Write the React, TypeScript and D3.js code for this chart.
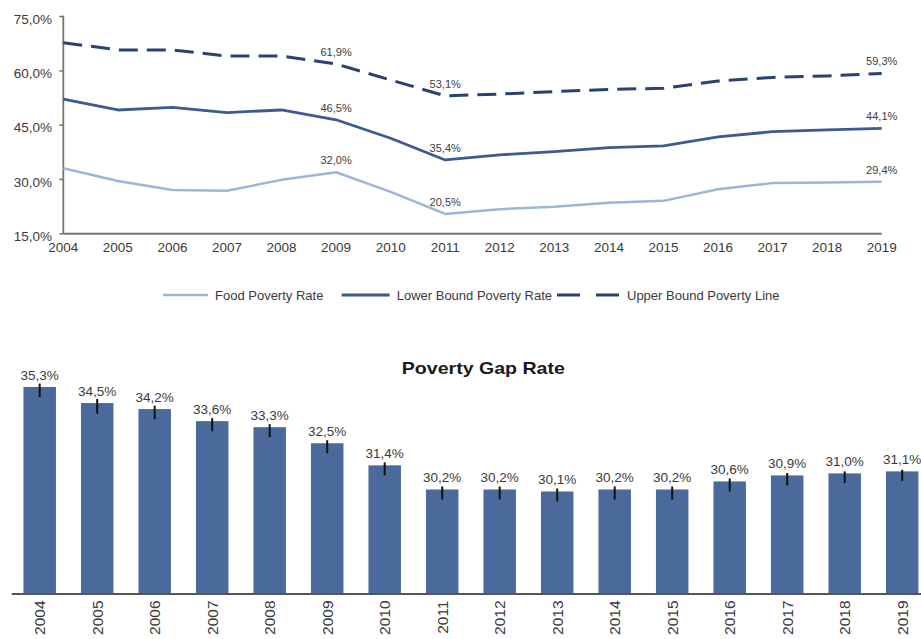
import React from "react";
import * as d3 from "d3";

const years = [2004, 2005, 2006, 2007, 2008, 2009, 2010, 2011, 2012, 2013, 2014, 2015, 2016, 2017, 2018, 2019];
const foodPovertyRate = [33.1, 29.6, 27.1, 26.9, 29.9, 32.0, 26.6, 20.5, 21.8, 22.5, 23.6, 24.1, 27.3, 29.0, 29.2, 29.4];
const lowerBoundPovertyRate = [52.2, 49.2, 49.9, 48.5, 49.2, 46.5, 41.4, 35.4, 36.8, 37.7, 38.8, 39.3, 41.8, 43.2, 43.7, 44.1];
const upperBoundPovertyLine = [67.8, 65.8, 65.8, 64.1, 64.1, 61.9, 57.5, 53.1, 53.6, 54.3, 54.9, 55.2, 57.2, 58.2, 58.6, 59.3];
const labeledYears = [2009, 2011, 2019];
const yTicks = [15, 30, 45, 60, 75];

const povertyGapRate = [35.3, 34.5, 34.2, 33.6, 33.3, 32.5, 31.4, 30.2, 30.2, 30.1, 30.2, 30.2, 30.6, 30.9, 31.0, 31.1];
const gapErrorUp = [0.17, 0.2, 0.17, 0.15, 0.15, 0.15, 0.15, 0.15, 0.15, 0.15, 0.15, 0.15, 0.15, 0.12, 0.1, 0.08];
const gapErrorDown = [0.5, 0.53, 0.5, 0.5, 0.5, 0.5, 0.5, 0.5, 0.5, 0.5, 0.5, 0.5, 0.5, 0.5, 0.48, 0.47];

const legendItems = [
  { name: "Food Poverty Rate", color: "#9db6d8", dash: "", width: 2.5 },
  { name: "Lower Bound Poverty Rate", color: "#3d5b8e", dash: "", width: 2.8 },
  { name: "Upper Bound Poverty Line", color: "#2a4270", dash: "23,16", width: 3 },
];

const FONT = "'Liberation Sans', Arial, sans-serif";
const fmt = (v: number) => d3.format(".1f")(v).replace(".", ",") + "%";

export default function App() {
  const W = 921, H = 639;
  // top line chart
  const x = d3.scaleLinear().domain([2004, 2019]).range([63.3, 881.7]);
  const y = d3.scaleLinear().domain([15, 75]).range([233.8, 16.6]);
  const line = d3
    .line<number>()
    .x((_, i) => x(years[i]))
    .y((d) => y(d));

  const series = [
    { data: foodPovertyRate, ...legendItems[0] },
    { data: lowerBoundPovertyRate, ...legendItems[1] },
    { data: upperBoundPovertyLine, ...legendItems[2], dash: "19,9" },
  ];

  // bottom bar chart
  const xb = d3
    .scaleBand<number>()
    .domain(years)
    .range([10.95, 930.95])
    .paddingInner(0.435)
    .paddingOuter(0.2175);
  const yb = d3.scaleLinear().domain([25, 35]).range([594, 393]);

  const axisColor = "#7a736c";
  const textColor = "#3a3a3a";

  const legendX = [163, 341.7, 557];
  const legendLen = [45, 48, 63];

  return (
    <svg
      width={W}
      height={H}
      style={{ position: "absolute", left: 0, top: 0, background: "#fff" }}
      fontFamily={FONT}
    >
      {/* Top chart axes */}
      <line x1={x(2004)} x2={x(2004)} y1={y(75) - 1} y2={y(15)} stroke={axisColor} strokeWidth={1.8} />
      <line x1={x(2004)} x2={x(2019)} y1={y(15)} y2={y(15)} stroke={axisColor} strokeWidth={2} />
      {yTicks.map((t) => (
        <g key={t}>
          <line x1={x(2004) - 4} x2={x(2004)} y1={y(t)} y2={y(t)} stroke={axisColor} strokeWidth={1.5} />
          <text
            x={52}
            y={y(t) + 7}
            textAnchor="end"
            fontSize={13.5}
            fill={textColor}
          >
            {fmt(t)}
          </text>
        </g>
      ))}
      {years.map((yr) => (
        <text key={yr} x={x(yr)} y={252} textAnchor="middle" fontSize={13.5} fill={textColor}>
          {yr}
        </text>
      ))}
      {series.map((s) => (
        <path
          key={s.name}
          d={line(s.data) || ""}
          fill="none"
          stroke={s.color}
          strokeWidth={s.width}
          strokeDasharray={s.dash || undefined}
          strokeLinejoin="round"
        />
      ))}
      {series.map((s) =>
        labeledYears.map((yr) => {
          const i = years.indexOf(yr);
          return (
            <text
              key={s.name + yr}
              x={x(yr)}
              y={y(s.data[i]) - 8}
              textAnchor="middle"
              fontSize={11}
              fill="#404040"
            >
              {fmt(s.data[i])}
            </text>
          );
        })
      )}

      {/* Legend */}
      {legendItems.map((item, i) => (
        <g key={item.name}>
          <line
            x1={legendX[i]}
            x2={legendX[i] + legendLen[i]}
            y1={295}
            y2={295}
            stroke={item.color}
            strokeWidth={item.width}
            strokeDasharray={item.dash || undefined}
          />
          <text x={legendX[i] + legendLen[i] + 7} y={299.5} fontSize={13} fill={textColor}>
            {item.name}
          </text>
        </g>
      ))}

      {/* Bottom chart */}
      <text
        x={483.3}
        y={374}
        textAnchor="middle"
        fontSize={17}
        fontWeight="bold"
        fill="#1a1a1a"
        textLength={163}
        lengthAdjust="spacingAndGlyphs"
      >
        Poverty Gap Rate
      </text>
      {years.map((yr, i) => {
        const bx = xb(yr) as number;
        const cx = bx + xb.bandwidth() / 2;
        const v = povertyGapRate[i];
        return (
          <g key={yr}>
            <rect x={bx} y={yb(v)} width={xb.bandwidth()} height={yb(25) - yb(v)} fill="#4a6a9b" />
            <line
              x1={cx}
              x2={cx}
              y1={yb(v + gapErrorUp[i])}
              y2={yb(v - gapErrorDown[i])}
              stroke="#111"
              strokeWidth={2}
            />
            <text x={cx} y={yb(v) - 7} textAnchor="middle" fontSize={13.5} fill={textColor}>
              {fmt(v)}
            </text>
            <text
              transform={`translate(${cx + 5.5},600.5) rotate(-90)`}
              textAnchor="end"
              fontSize={15.5}
              fill={textColor}
            >
              {yr}
            </text>
          </g>
        );
      })}
      <line x1={11.7} x2={921} y1={594} y2={594} stroke="#555" strokeWidth={1.8} />
    </svg>
  );
}
